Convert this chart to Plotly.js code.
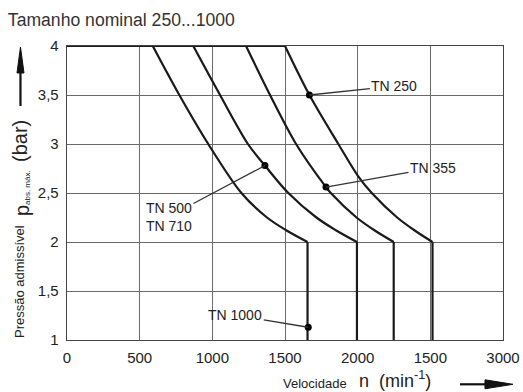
<!DOCTYPE html>
<html>
<head>
<meta charset="utf-8">
<script src="https://cdn.plot.ly/plotly-3.0.1.min.js"></script>
<style>html,body{margin:0;padding:0;background:#fff;}#chart{width:523px;height:392px;}</style>
</head>
<body>
<div id="chart"></div>
<script>
// Curves: speed n (min^-1) vs max. admissible pressure (bar)
// curved part (from the 4 bar plateau down to 2 bar)
const tn1000X = [590, 773, 972, 1200, 1376, 1508, 1655];
const tn1000Y = [4, 3.5, 3.0, 2.5, 2.25, 2.12, 2.0];

const tn500X = [869, 1053, 1245, 1362, 1523, 1716, 1850, 1995];
const tn500Y = [4, 3.5, 3.0, 2.78, 2.5, 2.25, 2.12, 2.0];

const tn355X = [1232, 1397, 1576, 1782, 1815, 1992, 2115, 2248];
const tn355Y = [4, 3.5, 3.0, 2.56, 2.5, 2.25, 2.12, 2.0];

const tn250X = [1500, 1668, 1867, 2004, 2097, 2272, 2390, 2515];
const tn250Y = [4, 3.5, 3.0, 2.67, 2.5, 2.25, 2.12, 2.0];

const pMax = 4;   // plateau pressure
const pMin = 1;   // lower end of the vertical speed limit
const nMin = 0;

// labelled points
const dotLabels = ["TN 250", "TN 355", "TN 500<br>TN 710", "TN 1000"];
const dotX = [1668, 1782, 1362, 1660];
const dotY = [3.5, 2.56, 2.78, 1.13];

const xTickVals = [0, 500, 1000, 1500, 2000, 2500, 3000];
const xTickText = ["0", "500", "1000", "1500", "2000", "1500", "3000"];
const yTickVals = [1, 1.5, 2, 2.5, 3, 3.5, 4];
const yTickText = ["1", "1,5", "2", "2,5", "3", "3,5", "4"];

const lineStyle = {color: "#1a1a1a", width: 2.2};
const curves = [[tn1000X, tn1000Y], [tn500X, tn500Y], [tn355X, tn355Y], [tn250X, tn250Y]];
const traces = [];
curves.forEach(([xs, ys]) => {
  const last = xs.length - 1;
  traces.push({x: [nMin, xs[0]], y: [pMax, ys[0]], mode: "lines", line: lineStyle, hoverinfo: "skip"});
  traces.push({x: xs, y: ys, mode: "lines", line: Object.assign({shape: "spline", smoothing: 0.9}, lineStyle), hoverinfo: "skip"});
  traces.push({x: [xs[last], xs[last]], y: [ys[last], pMin], mode: "lines", line: lineStyle, hoverinfo: "skip"});
});
traces.push({x: dotX, y: dotY, mode: "markers", marker: {color: "#000", size: 7}, hoverinfo: "skip"});

const FONT = "Liberation Sans, Arial, sans-serif";
const labelOffsets = [[85, -9], [107, -19], [-96, 51], [-73, -12]];
const annotations = dotLabels.map((t, i) => ({
  x: dotX[i], y: dotY[i], xref: "x", yref: "y",
  text: t, showarrow: true, arrowhead: 0, arrowwidth: 1.3, arrowcolor: "#333",
  ax: labelOffsets[i][0], ay: labelOffsets[i][1], standoff: 0,
  font: {family: FONT, size: 14, color: "#222"},
  align: "left"
}));

// y axis title pieces (rotated)
const yTitle = [
  {text: "Pressão admissível", x: -0.1078, y: 0.2007, size: 13},
  {text: "p", x: -0.1032, y: 0.4388, size: 20},
  {text: "abs. máx.", x: -0.0917, y: 0.517, size: 8},
  {text: "(bar)", x: -0.1078, y: 0.6769, size: 20}
];
yTitle.forEach(p => annotations.push({
  xref: "paper", yref: "paper", x: p.x, y: p.y, text: p.text, textangle: -90, showarrow: false,
  xanchor: "center", yanchor: "middle",
  font: {family: FONT, size: p.size, color: "#222"}
}));
// x axis title pieces
annotations.push({
  xref: "paper", yref: "paper", x: 0.5677, y: -0.1463, xanchor: "center", yanchor: "middle",
  text: "Velocidade", showarrow: false, font: {family: FONT, size: 13, color: "#222"}
});
annotations.push({
  xref: "paper", yref: "paper", x: 0.6651, y: -0.136, xanchor: "left", yanchor: "middle",
  text: "n  (min<sup>-1</sup>)", showarrow: false, font: {family: FONT, size: 18, color: "#222"}
});

const shapes = [
  // y arrow
  {type: "line", xref: "paper", yref: "paper", x0: -0.1067, x1: -0.1067, y0: 0.7959, y1: 0.92,
   line: {color: "#111", width: 2.2}},
  {type: "path", xref: "paper", yref: "paper", path: "M -0.1067 0.9966 L -0.1147 0.9082 L -0.0986 0.9082 Z",
   fillcolor: "#111", line: {color: "#111", width: 1}},
  // x arrow
  {type: "line", xref: "paper", yref: "paper", x0: 0.9014, x1: 0.965, y0: -0.1507, y1: -0.1507,
   line: {color: "#111", width: 2.2}},
  {type: "path", xref: "paper", yref: "paper", path: "M 1.0229 -0.1507 L 0.9587 -0.1354 L 0.9587 -0.1660 Z",
   fillcolor: "#111", line: {color: "#111", width: 1}}
];

const tickFont = {family: FONT, size: 15, color: "#222"};
const layout = {
  width: 523, height: 392,
  margin: {l: 67, r: 20, t: 46, b: 52},
  paper_bgcolor: "#fff", plot_bgcolor: "#fff",
  showlegend: false,
  title: {
    text: "Tamanho nominal 250...1000",
    xref: "container", yref: "container", x: 0.015, xanchor: "left", y: 0.95, yanchor: "middle",
    font: {family: FONT, size: 17.6, color: "#333"}
  },
  xaxis: {
    range: [0, 3000], tickvals: xTickVals, ticktext: xTickText, tickfont: tickFont,
    showgrid: true, gridcolor: "#6a6a6a", gridwidth: 1, zeroline: false,
    showline: true, mirror: true, linecolor: "#444", linewidth: 1.3,
    ticks: "", ticklabelstandoff: 4, fixedrange: true
  },
  yaxis: {
    range: [1, 4], tickvals: yTickVals, ticktext: yTickText, tickfont: tickFont,
    showgrid: true, gridcolor: "#6a6a6a", gridwidth: 1, zeroline: false,
    showline: true, mirror: true, linecolor: "#444", linewidth: 1.3,
    ticks: "", ticklabelstandoff: 4, fixedrange: true
  },
  annotations: annotations,
  shapes: shapes
};

Plotly.newPlot("chart", traces, layout, {displayModeBar: false, staticPlot: true});
</script>
</body>
</html>
